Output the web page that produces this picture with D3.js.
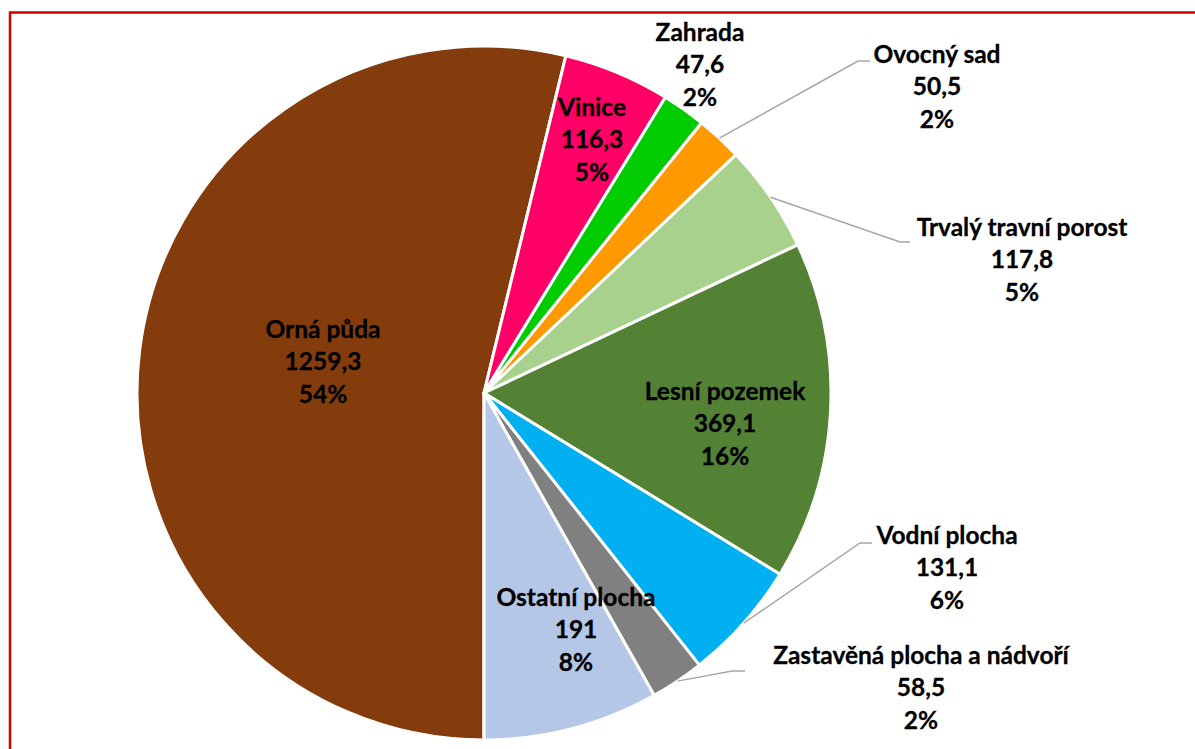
<!DOCTYPE html>
<html>
<head>
<meta charset="utf-8">
<script src="https://cdn.jsdelivr.net/npm/d3@7"></script>
<style>
  html, body { margin: 0; padding: 0; background: #fff; }
  svg { display: block; }
</style>
</head>
<body>
<svg id="chart" width="1195" height="749"></svg>
<script>
// data
const categories = ["Orná půda", "Vinice", "Zahrada", "Ovocný sad", "Trvalý travní porost",
    "Lesní pozemek", "Vodní plocha", "Zastavěná plocha a nádvoří", "Ostatní plocha"];
const values = [1259.3, 116.3, 47.6, 50.5, 117.8, 369.1, 131.1, 58.5, 191];
const valueLabels = ["1259,3", "116,3", "47,6", "50,5", "117,8", "369,1", "131,1", "58,5", "191"];
const colors = ["#843C0C", "#FF0066", "#00CC00", "#FF9900", "#A9D18E",
    "#548235", "#00B0F0", "#808080", "#B4C7E7"];

// label placement (x center, baseline of middle line, elbow of leader if any)
const labelPos = [
    {x: 323, y: 370},
    {x: 592, y: 148},
    {x: 700, y: 73},
    {x: 937, y: 95, elbow: [858, 61], end: 870},
    {x: 1022, y: 268, elbow: [900, 242], end: 910},
    {x: 725, y: 432},
    {x: 947, y: 576, elbow: [860, 543], end: 872},
    {x: 921, y: 696, elbow: [732, 671], end: 745},
    {x: 576, y: 638}
];

const SVG = d3.select("#chart");
const CX = 484, CY = 393, R = 347;
const LINE_H = 32.5;

// red frame
SVG.append("rect")
    .attr("x", 10).attr("y", 12.5)
    .attr("width", 1200).attr("height", 760)
    .attr("fill", "none")
    .attr("stroke", "#D00000")
    .attr("stroke-width", 2.5);

let g = SVG.append("g").attr("transform", `translate(${CX},${CY})`);

const total = d3.sum(values);
const pie = d3.pie().sort(null).startAngle(Math.PI).endAngle(3 * Math.PI);
const arcs = pie(values);
const arc = d3.arc().innerRadius(0).outerRadius(R);

g.selectAll("path.slice")
    .data(arcs)
    .join("path")
    .attr("class", "slice")
    .attr("d", arc)
    .attr("fill", (d, i) => colors[i])
    .attr("stroke", "#fff")
    .attr("stroke-width", 3)
    .attr("stroke-linejoin", "round");

// leader lines
arcs.forEach((d, i) => {
    const p = labelPos[i];
    if (!p.elbow) return;
    const a = (d.startAngle + d.endAngle) / 2;
    const sx = CX + R * Math.sin(a), sy = CY - R * Math.cos(a);
    SVG.append("polyline")
        .attr("points", `${sx},${sy} ${p.elbow[0]},${p.elbow[1]} ${p.end},${p.elbow[1]}`)
        .attr("fill", "none")
        .attr("stroke", "#A6A6A6")
        .attr("stroke-width", 1.5);
});

// labels
arcs.forEach((d, i) => {
    const p = labelPos[i];
    const pct = Math.round(values[i] / total * 100) + "%";
    const t = SVG.append("text")
        .attr("text-anchor", "middle")
        .attr("font-family", "Lato, 'Open Sans', sans-serif")
        .attr("font-weight", "bold")
        .attr("font-size", 24.5)
        .attr("fill", "#000")
        .attr("stroke", "#000")
        .attr("stroke-width", 0.3);
    [categories[i], valueLabels[i], pct].forEach((s, k) => {
        t.append("tspan")
            .attr("x", p.x)
            .attr("y", p.y + (k - 1) * LINE_H)
            .text(s);
    });
});
</script>
</body>
</html>
